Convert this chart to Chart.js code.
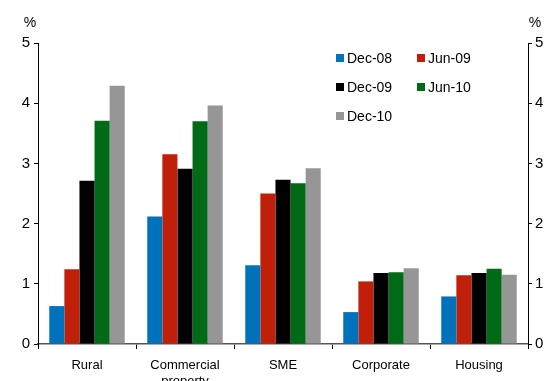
<!DOCTYPE html>
<html lang="en">
<head>
    <meta charset="UTF-8">
    <title>Non-performing loans by sector</title>
    <style>
        body { margin: 0; background: #fff; font-family: "Liberation Sans", Arial, sans-serif; }
        #wrap { width: 548px; height: 381px; overflow: hidden; }
    </style>
    <script src="https://cdn.jsdelivr.net/npm/chart.js"></script>
</head>
<body>
    <div id="wrap"><canvas id="grafico" width="548" height="381"></canvas></div>

    <script>
        const categorie = ['Rural', ['Commercial', 'property'], 'SME', 'Corporate', 'Housing'];
        const periodi = ['Dec-08', 'Jun-09', 'Dec-09', 'Jun-10', 'Dec-10'];
        const colori = ['#0072bc', '#c0200a', '#000000', '#006a17', '#969696'];

        const dec08 = [0.63, 2.12, 1.31, 0.53, 0.79];
        const jun09 = [1.24, 3.15, 2.50, 1.04, 1.14];
        const dec09 = [2.71, 2.91, 2.73, 1.18, 1.18];
        const jun10 = [3.71, 3.70, 2.67, 1.19, 1.25];
        const dec10 = [4.29, 3.96, 2.92, 1.26, 1.15];
        const serie = [dec08, jun09, dec09, jun10, dec10];

        const yTicks = [0, 1, 2, 3, 4, 5];
        const font = { family: '"Liberation Sans", Arial, sans-serif' };

        // legenda dentro l'area del grafico + simboli "%"
        const extra = {
            id: 'extra',
            afterDraw(chart) {
                const ctx = chart.ctx;
                ctx.save();
                ctx.fillStyle = '#000';
                ctx.font = '14px ' + font.family;
                ctx.textBaseline = 'middle';
                ctx.textAlign = 'center';
                ctx.fillText('%', 30, 23);
                ctx.fillText('%', 535, 23);

                ctx.textAlign = 'left';
                const pos = [[336, 58], [417, 58], [336, 87], [417, 87], [336, 116]];
                periodi.forEach((p, i) => {
                    const [x, y] = pos[i];
                    ctx.fillStyle = colori[i];
                    ctx.fillRect(x, y - 4, 8, 8);
                    ctx.fillStyle = '#000';
                    ctx.fillText(p, x + 11, y + 1);
                });
                ctx.restore();
            }
        };

        const ctx = document.getElementById('grafico').getContext('2d');
        new Chart(ctx, {
            type: 'bar',
            data: {
                labels: categorie,
                datasets: serie.map((d, i) => ({
                    label: periodi[i],
                    data: d,
                    backgroundColor: colori[i],
                    categoryPercentage: 0.77,
                    barPercentage: 1.0,
                })),
            },
            options: {
                responsive: false,
                animation: false,
                layout: { padding: { top: 43, left: 0, right: 0, bottom: 0 } },
                plugins: { legend: { display: false }, tooltip: { enabled: false } },
                scales: {
                    x: {
                        offset: true,
                        grid: { offset: true, drawOnChartArea: false, tickLength: 5, color: '#000' },
                        border: { color: '#555', width: 1.5 },
                        ticks: { color: '#000', font: { ...font, size: 13 }, padding: 9, maxRotation: 0 },
                        afterFit(s) { s.height = 37; },
                    },
                    y: {
                        position: 'left',
                        min: 0, max: 5,
                        afterBuildTicks(s) { s.ticks = yTicks.map(v => ({ value: v })); },
                        grid: { drawOnChartArea: false, tickLength: 4, color: '#000' },
                        border: { color: '#000' },
                        ticks: { color: '#000', font: { ...font, size: 15 }, padding: 4 },
                        afterFit(s) { s.width = 38; },
                    },
                    y2: {
                        position: 'right',
                        min: 0, max: 5,
                        afterBuildTicks(s) { s.ticks = yTicks.map(v => ({ value: v })); },
                        grid: { drawOnChartArea: false, tickLength: 4, color: '#000' },
                        border: { color: '#000' },
                        ticks: { color: '#000', font: { ...font, size: 15 }, padding: 3 },
                        afterFit(s) { s.width = 20; },
                    },
                },
            },
            plugins: [extra],
        });
    </script>
</body>
</html>
